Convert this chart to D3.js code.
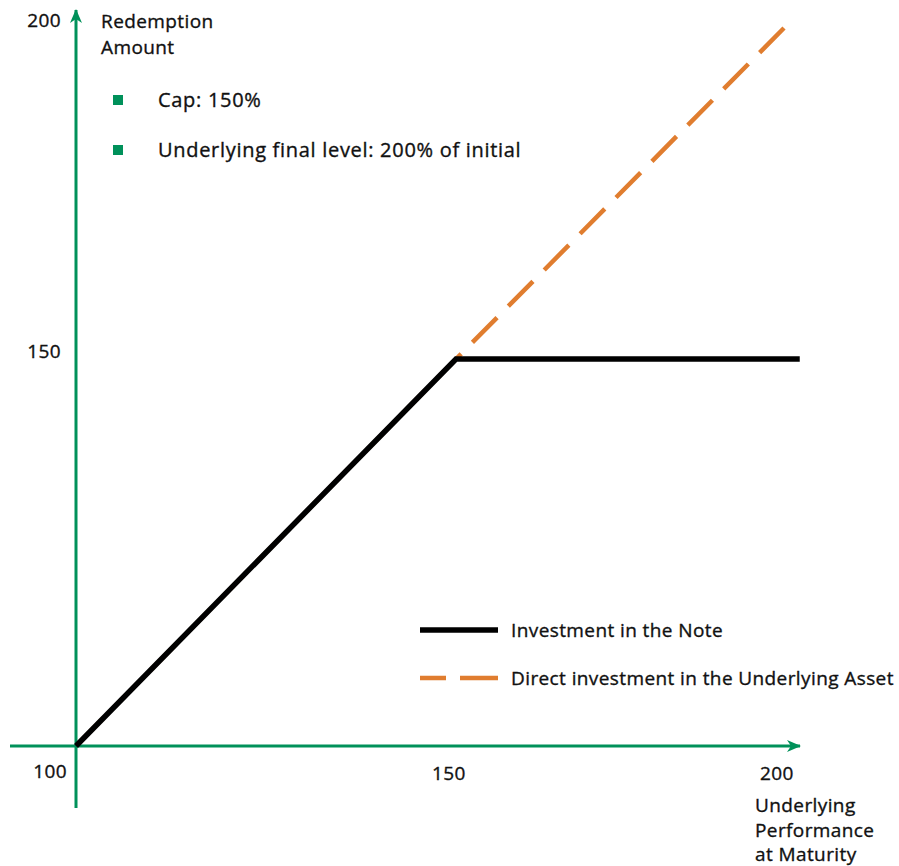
<!DOCTYPE html>
<html>
<head>
<meta charset="utf-8">
<script src="https://cdn.jsdelivr.net/npm/d3@7"></script>
<style>
  body { margin: 0; background: #fff; }
  svg text { font-family: "Open Sans", "Noto Sans", sans-serif; font-weight: 500; fill: #111;
             stroke: #111; stroke-width: 0.35px; letter-spacing: 0.4px; }
</style>
</head>
<body>
<div id="chart"></div>
<script>
// payoff profile data (underlying level vs redemption)
var noteX = [100, 150, 202.4];
var noteY = [100, 150, 150];
var directX = [100, 150, 200];
var directY = [100, 150, 200];
var xTicks = [150, 200];
var yTicks = [150, 200];
var originLabel = "100";
var bullets = ["Cap: 150%", "Underlying final level: 200% of initial"];
var seriesNames = ["Investment in the Note", "Direct investment in the Underlying Asset"];

var width = 899, height = 866;
var green = "#00915a", orange = "#e07d2f";

var svg = d3.select("#chart")
  .append("svg")
    .attr("width", width)
    .attr("height", height);

// schematic chart: the axis is not evenly spaced, so use a polylinear scale
var x = d3.scaleLinear()
  .domain([100, 150, 200])
  .range([76, 456, 784]);
var y = d3.scaleLinear()
  .domain([100, 150, 200])
  .range([746, 359, 28]);

var defs = svg.append("defs");
defs.append("marker")
    .attr("id", "arrow")
    .attr("viewBox", "0 0 14 12")
    .attr("refX", 13)
    .attr("refY", 6)
    .attr("markerWidth", 14)
    .attr("markerHeight", 12)
    .attr("markerUnits", "userSpaceOnUse")
    .attr("orient", "auto")
  .append("path")
    .attr("d", "M0,0 L14,6 L0,12 L4,6 Z")
    .attr("fill", green);

// axes
svg.append("line")
  .attr("x1", 10).attr("y1", y(100))
  .attr("x2", 800).attr("y2", y(100))
  .attr("stroke", green).attr("stroke-width", 3)
  .attr("marker-end", "url(#arrow)");
svg.append("line")
  .attr("x1", x(100)).attr("y1", 808)
  .attr("x2", x(100)).attr("y2", 10)
  .attr("stroke", green).attr("stroke-width", 3)
  .attr("marker-end", "url(#arrow)");

// tick labels
svg.append("g").selectAll("text")
  .data(xTicks)
  .enter()
  .append("text")
    .attr("x", d => x(d) - 7)
    .attr("y", 780)
    .attr("text-anchor", "middle")
    .attr("font-size", 19)
    .text(d => d);

svg.append("g").selectAll("text")
  .data(yTicks)
  .enter()
  .append("text")
    .attr("x", 61)
    .attr("y", d => y(d) - 1)
    .attr("text-anchor", "end")
    .attr("font-size", 19)
    .text(d => d);

svg.append("text")
  .attr("x", 67).attr("y", 778)
  .attr("text-anchor", "end")
  .attr("font-size", 19)
  .text(originLabel);

// axis titles
var yTitle = svg.append("text").attr("font-size", 19);
yTitle.append("tspan").attr("x", 101).attr("y", 28).text("Redemption");
yTitle.append("tspan").attr("x", 101).attr("y", 54).text("Amount");

var xTitle = svg.append("text").attr("font-size", 19);
["Underlying", "Performance", "at Maturity"].forEach(function(t, i) {
  xTitle.append("tspan").attr("x", 755).attr("y", 812 + i * 24.5).text(t);
});

// bullets
var b = svg.append("g").selectAll("g")
  .data(bullets)
  .enter()
  .append("g")
    .attr("transform", (d, i) => "translate(0," + (i * 50) + ")");
b.append("rect")
  .attr("x", 113).attr("y", 95)
  .attr("width", 10).attr("height", 10)
  .attr("fill", green);
b.append("text")
  .attr("x", 158).attr("y", 107)
  .attr("font-size", 20)
  .style("letter-spacing", "0.7px")
  .text(d => d);

// lines
var line = d3.line()
  .x(d => x(d[0]))
  .y(d => y(d[1]));

svg.append("path")
  .datum(d3.zip(directX, directY))
  .attr("d", line)
  .attr("fill", "none")
  .attr("stroke", orange)
  .attr("stroke-width", 4.5)
  .attr("stroke-dasharray", "35,16")
  .attr("stroke-dashoffset", -4.7);

svg.append("path")
  .datum(d3.zip(noteX, noteY))
  .attr("d", line)
  .attr("fill", "none")
  .attr("stroke", "#000")
  .attr("stroke-width", 5.5);

// legend
var lg = svg.append("g").selectAll("g")
  .data(seriesNames)
  .enter()
  .append("g")
    .attr("transform", (d, i) => "translate(0," + (630 + i * 48) + ")");
lg.append("line")
  .attr("x1", 420).attr("x2", 498)
  .attr("stroke", (d, i) => i === 0 ? "#000" : orange)
  .attr("stroke-width", (d, i) => i === 0 ? 5.5 : 4.5)
  .attr("stroke-dasharray", (d, i) => i === 0 ? null : "26,14,40");
lg.append("text")
  .attr("x", 511).attr("y", 7)
  .attr("font-size", 19)
  .text(d => d);
</script>
</body>
</html>
